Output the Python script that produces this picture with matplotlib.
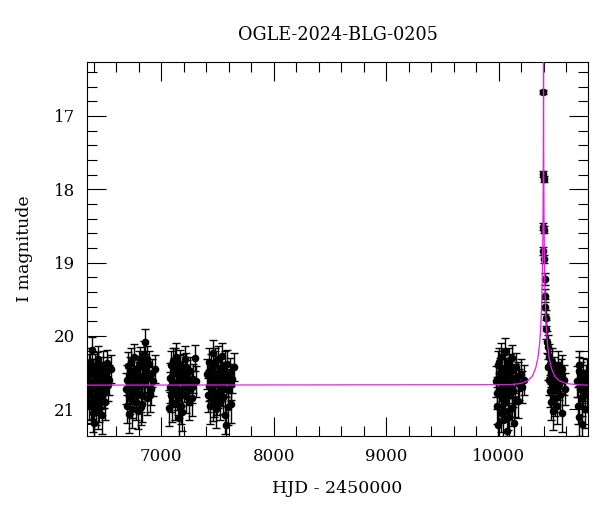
import matplotlib
matplotlib.use('Agg')
import matplotlib.pyplot as plt
from matplotlib.ticker import MultipleLocator

plt.rcParams['font.family'] = ['DejaVu Serif']

title = 'OGLE-2024-BLG-0205'

# season 1
t1 = [6345, 6350, 6356, 6361, 6367, 6372, 6378, 6382, 6388, 6393, 6398, 6402, 6408, 6414, 6419, 6425,
      6431, 6436, 6442, 6448, 6455, 6461, 6468, 6474, 6481, 6489, 6497, 6506, 6516, 6528, 6541, 6556,
      6353, 6375, 6396, 6411, 6428, 6445, 6465, 6485, 6502, 6522]
m1 = [20.55, 20.78, 20.42, 20.91, 20.63, 20.35, 20.71, 20.19, 20.88, 20.52, 21.05, 21.18, 20.66, 20.44, 20.97, 20.74,
      20.58, 21.02, 20.31, 20.69, 20.85, 20.47, 20.62, 21.08, 20.39, 20.76, 20.55, 20.90, 20.48, 20.67, 20.60, 20.45,
      20.68, 20.95, 20.50, 20.82, 20.40, 20.93, 20.75, 20.57, 20.70, 20.37]
e1 = [0.18, 0.22, 0.17, 0.24, 0.20, 0.19, 0.21, 0.18, 0.25, 0.20, 0.26, 0.23, 0.21, 0.19, 0.24, 0.22,
      0.20, 0.25, 0.18, 0.21, 0.23, 0.19, 0.20, 0.26, 0.18, 0.22, 0.20, 0.24, 0.19, 0.21, 0.20, 0.19,
      0.21, 0.24, 0.19, 0.23, 0.18, 0.24, 0.22, 0.20, 0.21, 0.18]

# season 2
t2 = [6692, 6698, 6705, 6711, 6717, 6724, 6731, 6737, 6744, 6750, 6757, 6763, 6770, 6776, 6783, 6790, 6797,
      6804, 6811, 6818, 6826, 6833, 6841, 6848, 6853, 6860, 6868, 6876, 6885, 6895, 6906, 6918, 6932, 6948,
      6701, 6721, 6740, 6760, 6780, 6800, 6822, 6845, 6872, 6900]
m2 = [20.72, 20.95, 20.41, 21.07, 20.58, 20.83, 20.36, 20.67, 21.00, 20.50, 20.77, 20.29, 20.62, 20.90, 20.46, 20.70, 21.02,
      20.55, 20.33, 20.80, 20.60, 20.93, 20.42, 20.25, 20.08, 20.65, 20.49, 20.85, 20.57, 20.38, 20.72, 20.50, 20.62, 20.45,
      20.60, 20.48, 20.88, 20.65, 20.75, 20.40, 20.97, 20.58, 20.32, 20.80]
e2 = [0.21, 0.24, 0.19, 0.25, 0.20, 0.23, 0.19, 0.21, 0.26, 0.20, 0.22, 0.18, 0.21, 0.24, 0.19, 0.21, 0.25,
      0.20, 0.18, 0.23, 0.20, 0.24, 0.19, 0.18, 0.17, 0.21, 0.19, 0.23, 0.20, 0.18, 0.22, 0.19, 0.20, 0.19,
      0.20, 0.19, 0.24, 0.21, 0.22, 0.19, 0.25, 0.20, 0.18, 0.23]

# season 3
t3 = [7072, 7078, 7085, 7091, 7098, 7104, 7110, 7117, 7123, 7130, 7136, 7143, 7149, 7155, 7162, 7168,
      7175, 7182, 7189, 7196, 7203, 7211, 7219, 7228, 7237, 7247, 7258, 7270, 7284, 7298, 7312,
      7081, 7101, 7120, 7140, 7158, 7179, 7199, 7224, 7252, 7277]
m3 = [20.98, 20.57, 20.40, 20.81, 20.62, 20.34, 20.75, 20.50, 20.91, 20.28, 20.66, 20.47, 20.85, 21.12, 20.56, 20.38,
      20.73, 20.60, 21.03, 20.44, 20.69, 20.31, 20.82, 20.53, 20.65, 20.90, 20.48, 20.70, 20.58, 20.30, 20.62,
      20.70, 20.92, 20.36, 20.78, 20.45, 20.95, 20.60, 20.42, 20.72, 20.85]
e3 = [0.25, 0.20, 0.19, 0.23, 0.21, 0.18, 0.22, 0.20, 0.24, 0.18, 0.21, 0.19, 0.23, 0.27, 0.20, 0.19,
      0.22, 0.21, 0.26, 0.19, 0.21, 0.18, 0.23, 0.20, 0.21, 0.24, 0.19, 0.22, 0.20, 0.18, 0.21,
      0.21, 0.25, 0.19, 0.23, 0.19, 0.25, 0.20, 0.19, 0.22, 0.24]

# season 4
t4 = [7412, 7418, 7424, 7431, 7437, 7444, 7450, 7457, 7463, 7470, 7476, 7483, 7489, 7496, 7502, 7509,
      7516, 7523, 7530, 7537, 7545, 7553, 7561, 7569, 7573, 7580, 7589, 7598, 7608, 7619, 7631, 7645,
      7421, 7440, 7460, 7480, 7499, 7520, 7541, 7565, 7593, 7625]
m4 = [20.52, 20.80, 20.35, 20.66, 20.95, 20.44, 20.71, 20.23, 20.58, 20.87, 20.40, 20.63, 21.00, 20.50, 20.76, 20.32,
      20.60, 20.90, 20.45, 20.68, 20.27, 20.83, 20.55, 21.08, 21.22, 20.62, 20.38, 20.74, 20.50, 20.93, 20.58, 20.42,
      20.68, 20.58, 20.92, 20.36, 20.85, 20.48, 20.74, 20.40, 20.97, 20.66]
e4 = [0.20, 0.23, 0.19, 0.21, 0.25, 0.19, 0.22, 0.18, 0.20, 0.24, 0.19, 0.21, 0.26, 0.20, 0.22, 0.18,
      0.20, 0.24, 0.19, 0.21, 0.18, 0.23, 0.20, 0.26, 0.27, 0.21, 0.19, 0.22, 0.20, 0.25, 0.20, 0.19,
      0.21, 0.20, 0.24, 0.19, 0.23, 0.20, 0.22, 0.19, 0.25, 0.21]

# season 5
t5 = [9978, 9984, 9990, 9996, 10002, 10008, 10014, 10020, 10026, 10032, 10038, 10044, 10050, 10056, 10062, 10068, 10074,
      10080, 10086, 10092, 10099, 10106, 10113, 10120, 10128, 10136, 10145, 10155, 10166, 10178, 10192, 10208, 10225,
      9987, 10005, 10023, 10041, 10059, 10077, 10096, 10117, 10140, 10171]
m5 = [20.62, 20.95, 20.40, 21.22, 20.73, 20.50, 21.05, 20.28, 20.84, 20.60, 21.15, 20.45, 20.90, 20.21, 20.70, 21.30, 20.55,
      20.80, 20.36, 21.10, 20.64, 20.48, 20.98, 20.30, 20.75, 21.18, 20.58, 20.42, 20.88, 20.66, 20.52, 20.70, 20.60,
      20.78, 20.35, 20.68, 20.92, 20.50, 21.02, 20.44, 20.72, 20.86, 20.55]
e5 = [0.21, 0.25, 0.19, 0.28, 0.22, 0.20, 0.26, 0.18, 0.23, 0.21, 0.27, 0.19, 0.24, 0.18, 0.21, 0.29, 0.20,
      0.23, 0.19, 0.26, 0.21, 0.20, 0.25, 0.18, 0.22, 0.27, 0.20, 0.19, 0.24, 0.21, 0.20, 0.22, 0.21,
      0.22, 0.19, 0.21, 0.25, 0.20, 0.26, 0.19, 0.22, 0.24, 0.20]

# season 6 (event)
t6 = [10391, 10393.5, 10395.2, 10398.5, 10401, 10389, 10404, 10407, 10410, 10413, 10417, 10421, 10427,
      10432, 10437, 10442, 10447, 10452, 10458, 10464, 10470, 10476, 10483, 10490, 10497, 10505, 10513,
      10522, 10531, 10541, 10552, 10564, 10577, 10590, 10455, 10480, 10500, 10526, 10558]
m6 = [18.51, 17.79, 16.67, 17.86, 18.55, 18.84, 18.95, 19.22, 19.45, 19.60, 19.76, 19.91, 20.08,
      20.15, 20.42, 20.60, 20.28, 20.75, 20.50, 20.90, 20.35, 20.62, 21.02, 20.48, 20.70, 20.58, 20.95,
      20.40, 20.66, 20.80, 20.52, 21.05, 20.60, 20.72, 20.38, 20.66, 20.85, 20.55, 20.45]
e6 = [0.05, 0.04, 0.03, 0.04, 0.05, 0.06, 0.06, 0.08, 0.09, 0.10, 0.11, 0.13, 0.15,
      0.16, 0.18, 0.20, 0.17, 0.22, 0.19, 0.24, 0.18, 0.20, 0.26, 0.19, 0.21, 0.20, 0.25,
      0.19, 0.21, 0.23, 0.20, 0.26, 0.21, 0.22, 0.18, 0.21, 0.24, 0.20, 0.19]

# season 7
t7 = [10693, 10700, 10707, 10714, 10721, 10728, 10735, 10742, 10750, 10758, 10766, 10775, 10784, 10710, 10746, 10779]
m7 = [20.62, 20.95, 20.48, 21.10, 20.72, 20.55, 21.20, 20.85, 20.50, 20.68, 21.00, 20.60, 20.80, 20.40, 20.75, 20.52]
e7 = [0.21, 0.25, 0.20, 0.27, 0.22, 0.20, 0.28, 0.24, 0.20, 0.21, 0.26, 0.21, 0.23, 0.19, 0.22, 0.20]

# model light curve
model_t = [6342, 10096, 10196, 10256, 10296, 10326, 10346, 10361, 10371, 10378, 10384, 10388, 10391,
           10393, 10394, 10395, 10395.5, 10396, 10396.5, 10397, 10398, 10399, 10401, 10404, 10408,
           10414, 10421, 10431, 10446, 10466, 10496, 10536, 10596, 10696, 10791]
model_m = [20.67, 20.664, 20.648, 20.61, 20.55, 20.44, 20.30, 20.11, 19.89, 19.64, 19.31, 18.94, 18.49,
           17.98, 17.56, 16.87, 16.24, 15.53, 16.24, 16.87, 17.56, 17.98, 18.49, 18.94, 19.31,
           19.64, 19.89, 20.11, 20.30, 20.44, 20.55, 20.61, 20.648, 20.664, 20.67]

fig = plt.figure(figsize=(6.0, 5.12), dpi=100)
ax = fig.add_axes([0.145, 0.1484, 0.835, 0.7305])

for t, m, e in [(t1, m1, e1), (t2, m2, e2), (t3, m3, e3), (t4, m4, e4),
                (t5, m5, e5), (t6, m6, e6), (t7, m7, e7)]:
    ax.errorbar(t, m, yerr=e, fmt='o', color='black', ms=4.5, elinewidth=1.0,
                capsize=3, capthick=1.0, zorder=2)

ax.plot(model_t, model_m, color='#e81ee8', lw=0.9, zorder=3)

ax.set_xlim(6342, 10791)
ax.set_ylim(21.364, 16.264)
ax.xaxis.set_major_locator(MultipleLocator(1000))
ax.xaxis.set_minor_locator(MultipleLocator(200))
ax.yaxis.set_major_locator(MultipleLocator(1))
ax.yaxis.set_minor_locator(MultipleLocator(0.2))
ax.tick_params(which='both', direction='in', top=True, right=True, labelsize=12, pad=8.5)
ax.tick_params(which='major', length=13.5, width=0.8)
ax.tick_params(which='minor', length=7, width=0.8)

ax.set_title(title, fontsize=12.7, pad=16)
ax.set_xlabel('HJD - 2450000', fontsize=12.5, labelpad=11)
ax.set_ylabel('I magnitude', fontsize=12.5, labelpad=15)

plt.savefig('out.png', dpi=100)
